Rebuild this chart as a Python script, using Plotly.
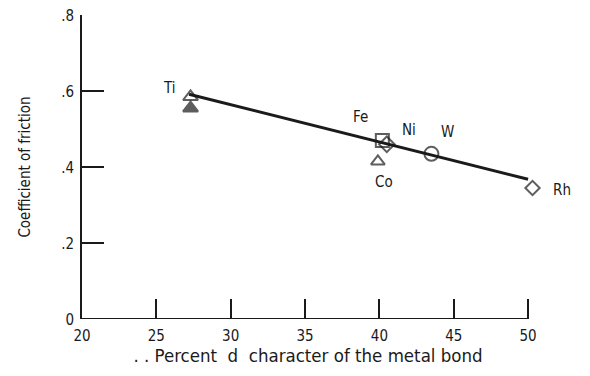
import plotly.graph_objects as go

# Data
metals = ["Ti", "Ti", "Fe", "Ni", "Co", "W", "Rh"]
d_character = [27.3, 27.3, 40.2, 40.5, 39.9, 43.5, 50.3]
friction = [0.585, 0.555, 0.47, 0.46, 0.415, 0.435, 0.345]
symbols = ["triangle-up-open", "triangle-up", "square-open", "diamond-open",
           "triangle-up-open", "circle-open", "diamond-open"]
sizes = [13, 13, 13, 12, 12, 14, 11]

fit_x = [27.2, 50.0]
fit_y = [0.592, 0.368]

labels = ["Ti", "Fe", "Ni", "Co", "W", "Rh"]
label_x = [25.9, 38.7, 42.0, 40.3, 44.6, 52.3]
label_y = [0.608, 0.532, 0.497, 0.36, 0.492, 0.34]

x_ticks = [20, 25, 30, 35, 40, 45, 50]
y_ticks = [0, 0.2, 0.4, 0.6, 0.8]
y_tick_text = ["0", ".2", ".4", ".6", ".8"]

X_RANGE = [20, 50.4]
Y_RANGE = [0, 0.8005]

FONT = "DejaVu Sans Condensed, Liberation Sans Narrow, Liberation Sans, sans-serif"
INK = "#1a1a1a"

fig = go.Figure()
fig.add_trace(go.Scatter(x=fit_x, y=fit_y, mode="lines",
                         line=dict(color=INK, width=3), hoverinfo="skip"))
fig.add_trace(go.Scatter(
    x=d_character, y=friction, mode="markers", text=metals, cliponaxis=False,
    marker=dict(symbol=symbols, size=sizes, color=INK,
                line=dict(color=INK, width=2)),
))
for t, lx, ly in zip(labels, label_x, label_y):
    fig.add_annotation(
        x=(lx - X_RANGE[0]) / (X_RANGE[1] - X_RANGE[0]), xref="paper",
        xanchor="center", yanchor="middle",
        y=ly, yref="y", text=t, showarrow=False,
        font=dict(family=FONT, size=15, color=INK))

# x axis baseline ends at the last tick (50)
fig.add_shape(type="line", xref="x", yref="y", x0=x_ticks[0], x1=x_ticks[-1],
              y0=0, y1=0, line=dict(color=INK, width=2))

fig.update_layout(
    width=574, height=360,
    margin=dict(l=74, r=48, t=7, b=49),
    paper_bgcolor="white", plot_bgcolor="white",
    showlegend=False,
    font=dict(family=FONT, color=INK, size=15),
)
fig.update_xaxes(
    range=X_RANGE, tickvals=x_ticks, ticks="inside", ticklen=20, tickwidth=2,
    tickcolor=INK, showline=False, showgrid=False,
    zeroline=False, tickfont=dict(size=15), automargin=False,
    ticklabelstandoff=6, ticklabeloverflow="allow",
    title=dict(text=". . Percent  d  character of the metal bond",
               font=dict(size=18.5), standoff=0),
)
fig.update_yaxes(
    range=Y_RANGE, tickvals=y_ticks, ticktext=y_tick_text, ticks="inside",
    ticklen=22, tickwidth=2, tickcolor=INK, showline=True, linecolor=INK,
    linewidth=2, showgrid=False, zeroline=False, tickfont=dict(size=15),
    automargin=False, ticklabeloverflow="allow", ticklabelshift=1,
    ticklabelstandoff=3,
    title=dict(text="Coefficient of friction", font=dict(size=15), standoff=27),
)

fig.write_html("out.html")
